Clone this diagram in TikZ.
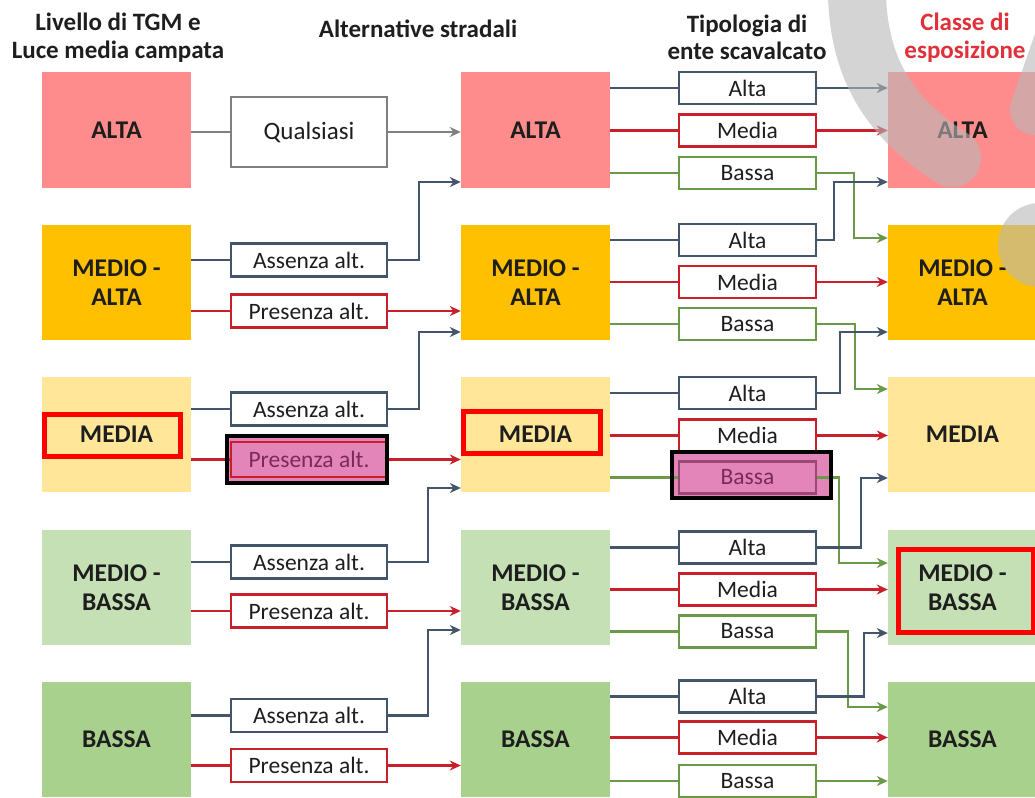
\documentclass[tikz,border=0pt]{standalone}
\usepackage{fontspec}
\setmainfont{Carlito}
\usetikzlibrary{arrows.meta}
\pgfdeclarelayer{bg}
\pgfdeclarelayer{fg}
\pgfsetlayers{bg,main,fg}

\definecolor{cAlta}{HTML}{FF8C8C}
\definecolor{cMedAlta}{HTML}{FFC000}
\definecolor{cMedia}{HTML}{FFE699}
\definecolor{cMedBassa}{HTML}{C5E0B4}
\definecolor{cBassa}{HTML}{A9D18E}
\definecolor{cSlate}{HTML}{44546A}
\definecolor{cRed}{HTML}{C8202A}
\definecolor{cGreen}{HTML}{6A9A48}
\definecolor{cGrey}{HTML}{808080}
\definecolor{cPink}{HTML}{E385B8}
\definecolor{cPinkText}{HTML}{7A2A5B}
\definecolor{cPinkEdge}{HTML}{9A4A72}
\definecolor{cTitleRed}{HTML}{E0303A}
\definecolor{cMark}{HTML}{FF0000}
\definecolor{cInk}{HTML}{1E1E1E}
\definecolor{cWater}{HTML}{B8B8B8}

\begin{document}
\begin{tikzpicture}[x=1pt,y=-1pt,
  level/.style={minimum width=149pt, minimum height=115pt, inner sep=0pt,
    font=\fontsize{25.5}{29.5}\selectfont\bfseries, align=center, text=cInk},
  altbox/.style={draw, line width=2.2pt, minimum width=156pt, minimum height=33pt,
    inner sep=0pt, fill=white, font=\fontsize{23.5}{25}\selectfont, text=cInk},
  entebox/.style={draw, line width=2.2pt, minimum width=137pt, minimum height=32pt,
    inner sep=0pt, fill=white, font=\fontsize{23.5}{25}\selectfont, text=cInk},
  link/.style={line width=2.5pt},
  flow/.style={line width=2.5pt, -{Stealth[length=11pt,width=10pt]}},
  heading/.style={font=\fontsize{25}{27.5}\selectfont\bfseries, align=center, text=cInk},
  markbox/.style={draw=cMark, line width=5pt},
  hlframe/.style={draw=black, line width=4pt},
  water/.style={draw=cWater, line cap=round, opacity=0.6}
]
\begin{pgfonlayer}{bg}
  \fill[white] (0,0) rectangle (1035,797);
\end{pgfonlayer}
\useasboundingbox (0,0) rectangle (1035,797);

% column headings
\node[heading] (h1) at (118,37.5) {Livello di TGM e\\Luce media campata};
\node[heading] (h2) at (418,29) {Alternative stradali};
\node[heading] (h3) at (747,37.5) {Tipologia di\\ente scavalcato};
\node[heading, text=cTitleRed] (h4) at (965,37.5) {Classe di\\esposizione};

% traffic level (left), road alternative result (middle), exposure class (right)
\foreach \c/\n in {116.5/l, 535.5/m, 962.5/r}{
  \node[level, fill=cAlta]     (\n1) at (\c,130)   {ALTA};
  \node[level, fill=cMedAlta]  (\n2) at (\c,282.5) {MEDIO -\\ALTA};
  \node[level, fill=cMedia]    (\n3) at (\c,434.5) {MEDIA};
  \node[level, fill=cMedBassa] (\n4) at (\c,587.5) {MEDIO -\\BASSA};
  \node[level, fill=cBassa]    (\n5) at (\c,739.5) {BASSA};
}

% road alternatives
\node[altbox, draw=cGrey, minimum height=70pt, font=\fontsize{25}{27}\selectfont] (q1) at (309,132) {Qualsiasi};
\node[altbox, draw=cSlate] (a2) at (309,260)   {Assenza alt.};
\node[altbox, draw=cRed]   (p2) at (309,311)   {Presenza alt.};
\node[altbox, draw=cSlate] (a3) at (309,409)   {Assenza alt.};
\node[altbox, draw=cRed, fill=cPink, text=cPinkText, minimum height=35pt] (p3) at (309,459.5) {Presenza alt.};
\node[altbox, draw=cSlate] (a4) at (309,562)   {Assenza alt.};
\node[altbox, draw=cRed]   (p4) at (309,611)   {Presenza alt.};
\node[altbox, draw=cSlate] (a5) at (309,715.5) {Assenza alt.};
\node[altbox, draw=cRed]   (p5) at (309,765.5) {Presenza alt.};

% crossed feature type
\node[entebox, draw=cSlate] (e1a) at (747.5,88)    {Alta};
\node[entebox, draw=cRed]   (e1m) at (747.5,130.5) {Media};
\node[entebox, draw=cGreen] (e1b) at (747.5,173)   {Bassa};
\node[entebox, draw=cSlate] (e2a) at (747.5,240)   {Alta};
\node[entebox, draw=cRed]   (e2m) at (747.5,282)   {Media};
\node[entebox, draw=cGreen] (e2b) at (747.5,324)   {Bassa};
\node[entebox, draw=cSlate] (e3a) at (747.5,393)   {Alta};
\node[entebox, draw=cRed]   (e3m) at (747.5,435.5) {Media};
\node[entebox, draw=cPinkEdge, fill=cPink, text=cPinkText] (e3b) at (747.5,477.5) {Bassa};
\node[entebox, draw=cSlate] (e4a) at (747.5,547.5) {Alta};
\node[entebox, draw=cRed]   (e4m) at (747.5,589.5) {Media};
\node[entebox, draw=cGreen] (e4b) at (747.5,631.5) {Bassa};
\node[entebox, draw=cSlate] (e5a) at (747.5,696.5) {Alta};
\node[entebox, draw=cRed]   (e5m) at (747.5,737.5) {Media};
\node[entebox, draw=cGreen] (e5b) at (747.5,781)   {Bassa};

% pink backing of the two highlighted boxes
\begin{pgfonlayer}{bg}
  \fill[cPink] ([shift={(-3pt,5pt)}]p3.north west) rectangle ([shift={(-1pt,-5pt)}]p3.south east);
  \fill[cPink] ([shift={(-6pt,8.5pt)}]e3b.north west) rectangle ([shift={(14pt,-3.5pt)}]e3b.south east);
\end{pgfonlayer}

% left column -> road alternatives
\draw[link, cGrey]  (l1.east |- q1) -- (q1);
\foreach \i in {2,3,4,5}{
  \draw[link, cSlate] (l\i.east |- a\i) -- (a\i);
  \draw[link, cRed]   (l\i.east |- p\i) -- (p\i);
}

% road alternatives -> middle column
\draw[flow, cGrey]  (q1) -- (m1.west |- q1);
\draw[flow, cSlate] (a2.east) -- ++(31,0) |- ([yshift=-52pt]m1.west);
\draw[flow, cRed]   (p2) -- (m2.west |- p2);
\draw[flow, cSlate] (a3.east) -- ++(31,0) |- ([yshift=-49.5pt]m2.west);
\draw[flow, cRed]   (p3) -- (m3.west |- p3);
\draw[flow, cSlate] (a4.east) -- ++(40,0) |- ([yshift=-53.5pt]m3.west);
\draw[flow, cRed]   (p4) -- (m4.west |- p4);
\draw[flow, cSlate] (a5.east) -- ++(40,0) |- ([yshift=-42.5pt]m4.west);
\draw[flow, cRed]   (p5) -- (m5.west |- p5);

% middle column -> crossed feature type
\foreach \i in {1,2,3,4,5}{
  \draw[link, cSlate] (m\i.east |- e\i a) -- (e\i a);
  \draw[link, cRed]   (m\i.east |- e\i m) -- (e\i m);
}
\foreach \i in {1,2,4,5}{
  \draw[link, cGreen] (m\i.east |- e\i b) -- (e\i b);
}
\draw[link, cGreen] (m3.east |- e3b) -- (e3b);

% crossed feature type -> exposure class
\draw[flow, cSlate] (e1a) -- (r1.west |- e1a);
\draw[flow, cRed]   (e1m) -- (r1.west |- e1m);
\draw[flow, cGreen] (e1b.east) -- ++(37,0) |- ([yshift=44.5pt]r2.west);
\draw[flow, cSlate] (e2a.east) -- ++(17,0) |- ([yshift=-52pt]r1.west);
\draw[flow, cRed]   (e2m) -- (r2.west |- e2m);
\draw[flow, cGreen] (e2b.east) -- ++(38,0) |- ([yshift=45.5pt]r3.west);
\draw[flow, cSlate] (e3a.east) -- ++(23,0) |- ([yshift=-49.5pt]r2.west);
\draw[flow, cRed]   (e3m) -- (r3.west |- e3m);
\draw[flow, cGreen] (e3b.east) -- ++(22,0) |- ([yshift=24.5pt]r4.west);
\draw[flow, cSlate] (e4a.east) -- ++(44,0) |- ([yshift=-43.5pt]r3.west);
\draw[flow, cRed]   (e4m) -- (r4.west |- e4m);
\draw[flow, cGreen] (e4b.east) -- ++(31,0) |- ([yshift=32.5pt]r5.west);
\draw[flow, cSlate] (e5a.east) -- ++(47,0) |- ([yshift=-45.5pt]r4.west);
\draw[flow, cRed]   (e5m) -- (r5.west |- e5m);
\draw[flow, cGreen] (e5b) -- (r5.west |- e5b);

% highlight frames and red marks
\begin{pgfonlayer}{fg}
  \draw[hlframe] ([shift={(-3pt,5pt)}]p3.north west) rectangle ([shift={(-1pt,-5pt)}]p3.south east);
  \draw[hlframe] ([shift={(-6pt,8.5pt)}]e3b.north west) rectangle ([shift={(14pt,-3.5pt)}]e3b.south east);
  \draw[markbox] ([shift={(-72.5pt,20.5pt)}]l3.center) rectangle ([shift={(63.5pt,-21.5pt)}]l3.center);
  \draw[markbox] ([shift={(-72.5pt,23.5pt)}]m3.center) rectangle ([shift={(64.5pt,-18.5pt)}]m3.center);
  \draw[markbox] ([shift={(-64.5pt,38.5pt)}]r4.center) rectangle ([shift={(70.5pt,-44.5pt)}]r4.center);
  % grey swoosh shapes in the upper right corner
  \draw[water, line width=58pt] (858,-40) .. controls (850,60) and (885,115) .. (952,158);
  \draw[water, line width=50pt] (1080,-20) -- (1035,110);
  \draw[water, line width=84pt] (1040,245) -- (1100,245);
\end{pgfonlayer}
\end{tikzpicture}
\end{document}
